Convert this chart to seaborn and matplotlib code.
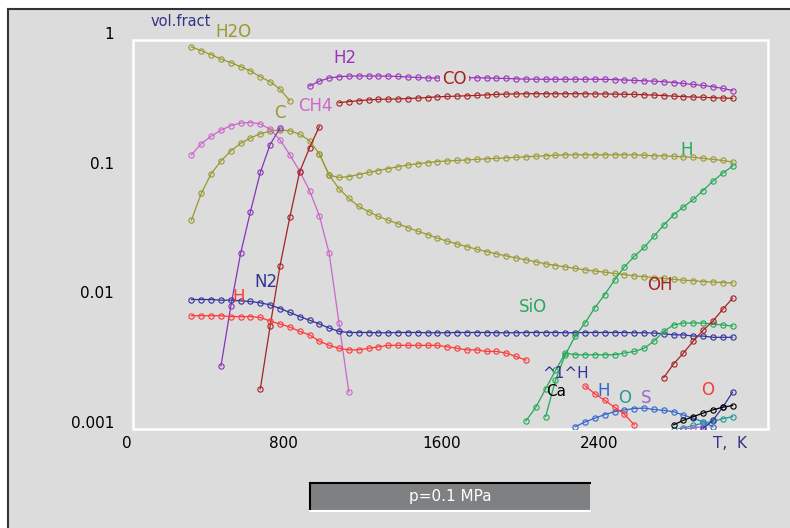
import matplotlib
matplotlib.use("Agg")
import matplotlib.pyplot as plt
from matplotlib.patches import Rectangle
from matplotlib.lines import Line2D
from matplotlib import font_manager
import pandas as pd
import seaborn as sns

# temperature grid, K (one marker every 50 K)
temps = [330, 380, 430, 480, 530, 580, 630, 680, 730, 780, 830, 880, 930, 980,
         1030, 1080, 1130, 1180, 1230, 1280, 1330, 1380, 1430, 1480, 1530,
         1580, 1630, 1680, 1730, 1780, 1830, 1880, 1930, 1980, 2030, 2080,
         2130, 2180, 2230, 2280, 2330, 2380, 2430, 2480, 2530, 2580, 2630,
         2680, 2730, 2780, 2830, 2880, 2930, 2980, 3030, 3080]

# volume fractions, (first temperature, values)
h2o = (330, [0.78, 0.73, 0.68, 0.63, 0.59, 0.55, 0.51, 0.46, 0.42, 0.37, 0.30])
carbon = (330, [0.036, 0.058, 0.082, 0.103, 0.123, 0.141, 0.155, 0.167, 0.175,
                0.179, 0.176, 0.166, 0.148, 0.117, 0.08, 0.063, 0.053, 0.046,
                0.042, 0.0385, 0.036, 0.0338, 0.0315, 0.0296, 0.0279, 0.0262,
                0.0248, 0.0236, 0.0225, 0.0215, 0.0206, 0.0198, 0.0191, 0.0184,
                0.0178, 0.0172, 0.0166, 0.0161, 0.0157, 0.0153, 0.0149, 0.0146,
                0.0143, 0.014, 0.0137, 0.0134, 0.0132, 0.013, 0.0128, 0.0126,
                0.0124, 0.0123, 0.0121, 0.012, 0.0119, 0.0118])
olive_flat = (980, [0.117, 0.08, 0.077, 0.078, 0.081, 0.084, 0.087, 0.09, 0.093,
                    0.096, 0.098, 0.1, 0.102, 0.103, 0.104, 0.105, 0.106, 0.107,
                    0.108, 0.109, 0.11, 0.111, 0.112, 0.113, 0.114, 0.115, 0.115,
                    0.115, 0.115, 0.115, 0.115, 0.115, 0.115, 0.114, 0.113, 0.113,
                    0.112, 0.111, 0.11, 0.108, 0.106, 0.104, 0.101])
ch4 = (330, [0.115, 0.14, 0.16, 0.178, 0.193, 0.202, 0.204, 0.199, 0.181, 0.15,
             0.115, 0.086, 0.061, 0.039, 0.02, 0.0058, 0.0017])
purple_steep = (480, [0.0027, 0.0078, 0.02, 0.042, 0.084, 0.138, 0.185])
co_rise = (680, [0.0018, 0.0055, 0.016, 0.038, 0.085, 0.13, 0.19])
co = (1080, [0.29, 0.296, 0.30, 0.305, 0.308, 0.309, 0.31, 0.312, 0.315, 0.318,
             0.322, 0.324, 0.326, 0.328, 0.33, 0.333, 0.336, 0.338, 0.339, 0.34,
             0.34, 0.34, 0.34, 0.34, 0.34, 0.34, 0.339, 0.339, 0.338, 0.337,
             0.336, 0.334, 0.332, 0.329, 0.326, 0.323, 0.321, 0.319, 0.317,
             0.315, 0.313])
h2 = (930, [0.39, 0.425, 0.45, 0.46, 0.465, 0.466, 0.466, 0.466, 0.465, 0.462,
            0.458, 0.454, 0.45, 0.45, 0.45, 0.452, 0.452, 0.452, 0.45, 0.448,
            0.446, 0.443, 0.441, 0.44, 0.44, 0.44, 0.44, 0.44, 0.44, 0.44,
            0.439, 0.437, 0.434, 0.431, 0.428, 0.425, 0.421, 0.415, 0.408,
            0.401, 0.394, 0.385, 0.374, 0.36])
n2 = (330, [0.0088, 0.0088, 0.0088, 0.0087, 0.0087, 0.0086, 0.0085, 0.0083,
            0.008, 0.0075, 0.007, 0.0065, 0.0061, 0.0057, 0.0053, 0.005, 0.0049,
            0.0049, 0.0049, 0.00488, 0.00488, 0.0049, 0.0049, 0.0049, 0.00488,
            0.00488, 0.00488, 0.0049, 0.0049, 0.0049, 0.0049, 0.00488, 0.00488,
            0.00488, 0.0049, 0.0049, 0.0049, 0.0049, 0.00488, 0.00488, 0.0049,
            0.0049, 0.0049, 0.0049, 0.0049, 0.00488, 0.00488, 0.00485, 0.0048,
            0.0047, 0.0047, 0.0046, 0.0046, 0.0045, 0.0045, 0.0045])
red_h = (330, [0.0066, 0.0066, 0.0066, 0.0066, 0.0065, 0.0065, 0.0065, 0.0064,
               0.006, 0.0057, 0.0054, 0.005, 0.0047, 0.0042, 0.0039, 0.0037,
               0.0036, 0.0036, 0.0037, 0.0038, 0.0039, 0.0039, 0.0039, 0.0039,
               0.0039, 0.0039, 0.0038, 0.0037, 0.0036, 0.0036, 0.0035, 0.0035,
               0.0034, 0.0032, 0.0030])
sio = (2030, [0.00102, 0.0013, 0.0018, 0.0025, 0.0034, 0.0033, 0.0033, 0.0033,
              0.0033, 0.0033, 0.0034, 0.0035, 0.0037, 0.0042, 0.005, 0.0056,
              0.0058, 0.0058, 0.0058, 0.0057, 0.0056, 0.0055])
h_green = (2130, [0.0011, 0.0021, 0.0033, 0.0046, 0.0058, 0.0076, 0.0096,
                  0.0124, 0.0157, 0.0189, 0.0222, 0.027, 0.033, 0.0395, 0.0455,
                  0.052, 0.061, 0.072, 0.083, 0.094])
oh = (2730, [0.0022, 0.0028, 0.0034, 0.0042, 0.0051, 0.006, 0.0074, 0.009])
blue_h = (2280, [0.00092, 0.001, 0.00107, 0.00114, 0.0012, 0.00124, 0.00127,
                 0.00128, 0.00125, 0.00123, 0.0012, 0.00113, 0.00107, 0.001,
                 0.00092])
red_fall = (2330, [0.0019, 0.00165, 0.00147, 0.0013, 0.00115, 0.00095])
teal_o = (2780, [0.00087, 0.0009, 0.00094, 0.00098, 0.00101, 0.00106, 0.0011])
violet_s = (2830, [0.00088, 0.0009, 0.00092])
navy_end = (2930, [0.00089, 0.00103, 0.0013, 0.0017])
black_ca = (2780, [0.00095, 0.00103, 0.0011, 0.00117, 0.00124, 0.0013, 0.00134])

OLIVE, H2C, CH4C, PURP = "#999933", "#9933bb", "#cc66cc", "#8833bb"
DRED, NAVY, RED, GREEN = "#a52222", "#333399", "#ff3838", "#22aa55"
BLUE, TEAL, VIOLET = "#3366cc", "#229999", "#9966cc"

curves = [
    ("h2o", h2o, OLIVE), ("carbon", carbon, OLIVE), ("olive_flat", olive_flat, OLIVE),
    ("ch4", ch4, CH4C), ("purple_steep", purple_steep, PURP),
    ("co_rise", co_rise, DRED), ("co", co, DRED), ("h2", h2, H2C),
    ("n2", n2, NAVY), ("red_h", red_h, RED), ("sio", sio, GREEN),
    ("h_green", h_green, GREEN), ("oh", oh, DRED), ("blue_h", blue_h, BLUE),
    ("red_fall", red_fall, RED), ("teal_o", teal_o, TEAL),
    ("violet_s", violet_s, VIOLET), ("navy_end", navy_end, NAVY),
    ("black_ca", black_ca, "black"),
]

rows = []
for name, (t0, vals), _ in curves:
    i0 = temps.index(t0)
    for t, v in zip(temps[i0:], vals):
        rows.append({"curve": name, "T": t, "frac": v})
df = pd.DataFrame(rows)

names = {f.name for f in font_manager.fontManager.ttflist}
tick_font = "Liberation Sans Narrow" if "Liberation Sans Narrow" in names else "DejaVu Sans"
plt.rcParams["font.family"] = ["DejaVu Sans"]

BG = "#dcdcdc"
fig = plt.figure(figsize=(7.9, 5.28), dpi=100, facecolor=BG)
W, H = 790, 528
# axes: x 126.5..768 px, y 33..429 px
ax = fig.add_axes([126.5 / W, (H - 429) / H, (768 - 126.5) / W, (429 - 33) / H])
ax.set_facecolor(BG)
for s in ax.spines.values():
    s.set_visible(False)

for name, _, color in curves:
    sns.lineplot(data=df[df["curve"] == name], x="T", y="frac", ax=ax,
                 color=color, marker="o", markersize=3.8,
                 markerfacecolor="none", markeredgecolor=color,
                 markeredgewidth=0.8, linewidth=0.9, estimator=None,
                 legend=False, zorder=3)

ax.set_yscale("log")
ax.set_xlim(0, 3260)
ax.set_ylim(10 ** -3.054, 1.0)
ax.set_xticks([0, 800, 1600, 2400])
ax.set_xticklabels(["0", "800", "1600", "2400"])
ax.set_yticks([0.001, 0.01, 0.1, 1])
ax.set_yticklabels(["0.001", "0.01", "0.1", "1"])
ax.minorticks_off()
ax.tick_params(length=0, labelsize=11, colors="black")
ax.tick_params(axis="x", pad=5)
ax.tick_params(axis="y", pad=9)
for lab in ax.get_xticklabels() + ax.get_yticklabels():
    lab.set_fontfamily(tick_font)
ax.set_xlabel("")
ax.set_ylabel("")

# white frame of the plot area
ax.add_patch(Rectangle((0.0101, 0), 0.9899, 0.9823, transform=ax.transAxes,
                       fill=False, ec="white", lw=1.8, clip_on=False, zorder=1))

# curve labels
labels = [
    ("H2O", 541, 1.018, OLIVE, 12), ("H2", 1110, 0.641, H2C, 12),
    ("CO", 1666, 0.442, DRED, 12), ("CH4", 958, 0.2735, CH4C, 12),
    ("C", 780, 0.2415, OLIVE, 12), ("H", 2848, 0.125, GREEN, 12),
    ("N2", 709, 0.0120, NAVY, 12), ("H", 572, 0.0092, RED, 12),
    ("SiO", 2066, 0.0077, GREEN, 12), ("OH", 2711, 0.0114, DRED, 12),
    ("^1^H", 2233, 0.00236, NAVY, 11), ("Ca", 2183, 0.00172, "black", 11),
    ("H", 2426, 0.00173, BLUE, 12), ("O", 2533, 0.00153, TEAL, 12),
    ("S", 2640, 0.00153, VIOLET, 12), ("O", 2955, 0.00177, RED, 12),
]
for txt, x, y, c, fs in labels:
    kw = {}
    if txt == "CO":
        kw["bbox"] = dict(fc=BG, ec="none", pad=1.5)
    ax.text(x, y, txt, color=c, fontsize=fs, ha="center", va="center",
            clip_on=False, zorder=4, **kw)

ax.text(277, 1.216, "vol.fract", color="#333388", fontsize=10.5, ha="center",
        va="center", clip_on=False)
ax.text(3067, 10 ** -3.162, "T,  K", color="#333388", fontsize=11, ha="center",
        va="center", clip_on=False)

# outer border of the window
fig.add_artist(Rectangle((0, 1 - 8 / H), 1, 8 / H, transform=fig.transFigure,
                         fc="white", ec="none"))
fig.add_artist(Rectangle((0, 0), 7 / W, 1, transform=fig.transFigure,
                         fc="white", ec="none"))
fig.add_artist(Line2D([8 / W, 1], [1 - 9 / H, 1 - 9 / H], color="#333333", lw=1.5))
fig.add_artist(Line2D([8 / W, 8 / W], [0, 1 - 9 / H], color="#333333", lw=1.5))

# pressure box
bx0, bx1, by0, by1 = 310 / W, 590 / W, (H - 511) / H, (H - 483) / H
fig.add_artist(Rectangle((bx0, by0), bx1 - bx0, by1 - by0, transform=fig.transFigure,
                         fc="#7e8081", ec="none"))
fig.add_artist(Line2D([bx0, bx1], [by1, by1], color="black", lw=1.5))
fig.add_artist(Line2D([bx0, bx0], [by0, by1], color="black", lw=1.5))
fig.add_artist(Line2D([bx0, bx1], [by0, by0], color="white", lw=1.5))
fig.text((bx0 + bx1) / 2, (by0 + by1) / 2, "p=0.1 MPa", color="white",
         fontsize=11, ha="center", va="center", family=tick_font)

fig.savefig("out.png", dpi=100, facecolor=BG)
